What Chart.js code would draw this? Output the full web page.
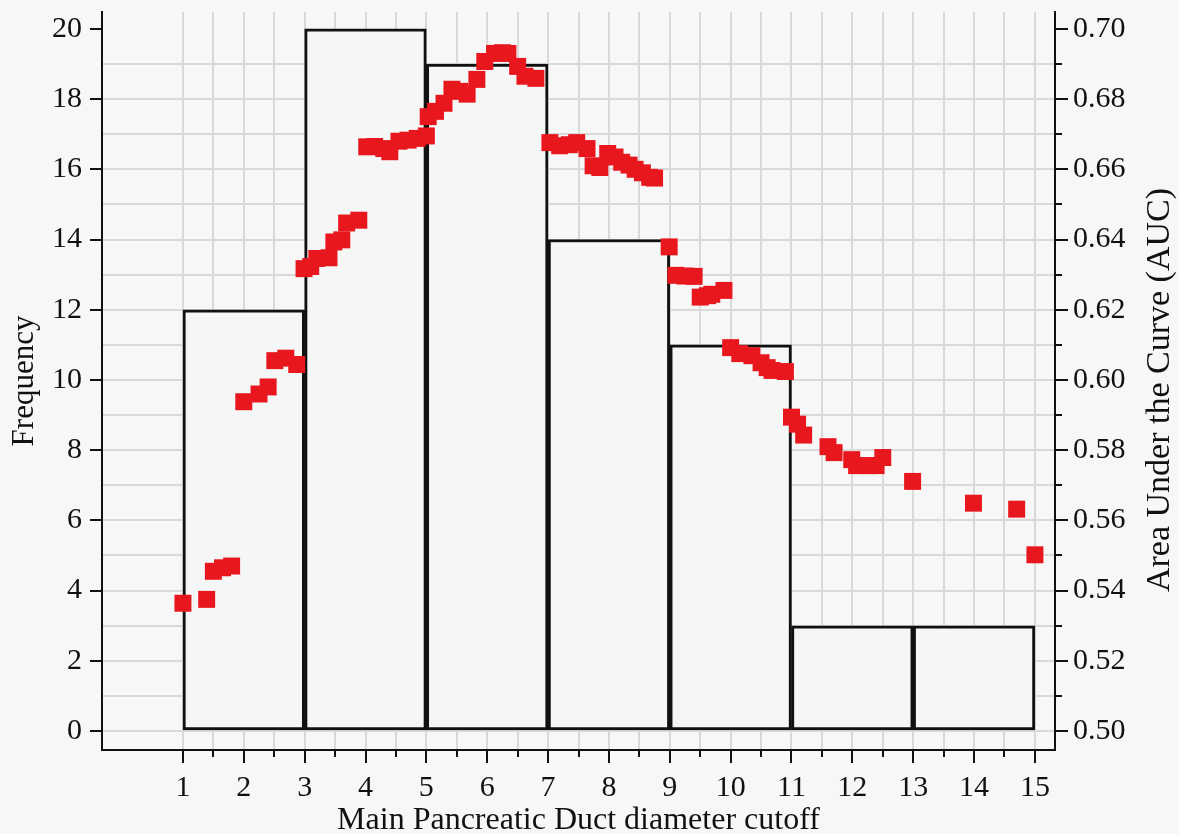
<!DOCTYPE html>
<html>
<head>
<meta charset="utf-8">
<script src="https://cdn.jsdelivr.net/npm/chart.js@4.4.1/dist/chart.umd.min.js"></script>
<style>
html,body{margin:0;padding:0;background:#f7f7f7;}
#wrap{width:1179px;height:834px;position:relative;}
</style>
</head>
<body>
<div id="wrap"><canvas id="c"></canvas></div>
<script>
// ---- data ----
const binCenters = [2, 4, 6, 8, 10, 12, 14];
const frequencies = [12, 20, 19, 14, 11, 3, 3];

const cutoffs = [
  1.00, 1.39, 1.50, 1.65, 1.80,
  2.00, 2.25, 2.40, 2.51, 2.69, 2.87,
  2.99, 3.10, 3.20, 3.40, 3.48, 3.61, 3.69, 3.89,
  4.02, 4.15, 4.30, 4.40, 4.55, 4.70, 4.85, 5.00,
  5.03, 5.15, 5.29, 5.42, 5.55, 5.67, 5.83, 5.96, 6.12, 6.25, 6.34, 6.50, 6.62, 6.80,
  7.03, 7.19, 7.35, 7.47, 7.64, 7.74, 7.85, 7.98, 8.10, 8.21, 8.33, 8.43, 8.55, 8.67, 8.75,
  8.99, 9.10, 9.25, 9.40, 9.50, 9.62, 9.69, 9.89,
  10.00, 10.15, 10.35, 10.50, 10.60, 10.68, 10.90,
  11.00, 11.10, 11.20, 11.60, 11.70, 11.99, 12.07, 12.25, 12.39, 12.50,
  12.99, 13.99, 14.70, 15.00
];
const aucValues = [
  0.5364, 0.5375, 0.5455, 0.5465, 0.5470,
  0.5938, 0.5960, 0.5980, 0.6055, 0.6062, 0.6044,
  0.6317, 0.6323, 0.6346, 0.6348, 0.6393, 0.6399, 0.6447, 0.6455,
  0.6664, 0.6665, 0.6659, 0.6650, 0.6680, 0.6683, 0.6688, 0.6695,
  0.6750, 0.6765, 0.6788, 0.6828, 0.6822, 0.6814, 0.6856, 0.6907, 0.6930, 0.6932, 0.6930, 0.6893, 0.6865, 0.6859,
  0.6676, 0.6667, 0.6670, 0.6676, 0.6659, 0.6610, 0.6605, 0.6645, 0.6635, 0.6620, 0.6612, 0.6600, 0.6590, 0.6577, 0.6575,
  0.6379, 0.6298, 0.6296, 0.6295, 0.6236, 0.6240, 0.6244, 0.6255,
  0.6092, 0.6075, 0.6069, 0.6049, 0.6035, 0.6027, 0.6024,
  0.5894, 0.5874, 0.5843, 0.5810, 0.5793, 0.5773, 0.5756, 0.5756, 0.5756, 0.5779,
  0.5711, 0.5649, 0.5632, 0.5502
];

const xTicks = [1,1.5,2,2.5,3,3.5,4,4.5,5,5.5,6,6.5,7,7.5,8,8.5,9,9.5,10,10.5,11,11.5,12,12.5,13,13.5,14,14.5,15];
const freqTicks = [0,1,2,3,4,5,6,7,8,9,10,11,12,13,14,15,16,17,18,19,20];
const aucTicks = [0.50,0.51,0.52,0.53,0.54,0.55,0.56,0.57,0.58,0.59,0.60,0.61,0.62,0.63,0.64,0.65,0.66,0.67,0.68,0.69,0.70];

const xTitle = 'Main Pancreatic Duct diameter cutoff';
const yTitle = 'Frequency';
const y2Title = 'Area Under the Curve (AUC)';

const FONT = '"Liberation Serif", "Times New Roman", serif';
const INK = '#111111';
const GRID = '#d9d9d9';
const X_MIN = -0.33, X_MAX = 15.33;

const barData = binCenters.map((c, i) => ({x: c, y: frequencies[i]}));
const aucData = cutoffs.map((c, i) => ({x: c, y: aucValues[i]}));

const axisMarks = {
  id: 'axisMarks',
  afterDraw(chart) {
    const {ctx, chartArea: ca} = chart;
    const {x, y, y2} = chart.scales;
    ctx.save();
    ctx.strokeStyle = INK;
    ctx.lineWidth = 2;
    ctx.beginPath();
    xTicks.forEach(v => {
      const px = Math.round(x.getPixelForValue(v));
      const len = Number.isInteger(v) ? 13 : 7;
      ctx.moveTo(px, ca.bottom); ctx.lineTo(px, ca.bottom + len);
    });
    freqTicks.forEach(v => {
      if (v % 2 !== 0) return;
      const py = Math.round(y.getPixelForValue(v));
      ctx.moveTo(ca.left - 12, py); ctx.lineTo(ca.left, py);
    });
    aucTicks.forEach((v, i) => {
      const py = Math.round(y2.getPixelForValue(v));
      const len = i % 2 === 0 ? 13 : 7;
      ctx.moveTo(ca.right, py); ctx.lineTo(ca.right + len, py);
    });
    ctx.stroke();
    ctx.font = '34px ' + FONT;
    ctx.fillStyle = INK;
    ctx.textAlign = 'center';
    ctx.textBaseline = 'middle';
    ctx.translate(1160, 390);
    ctx.rotate(-Math.PI / 2);
    ctx.fillText(y2Title, 0, 0);
    ctx.restore();
  }
};

new Chart(document.getElementById('c'), {
  type: 'bar',
  data: {
    datasets: [
      {
        type: 'scatter',
        data: aucData,
        yAxisID: 'y2',
        xAxisID: 'x',
        backgroundColor: '#e8171e',
        borderWidth: 0,
        pointStyle: 'rect',
        pointRadius: 12,
        pointHoverRadius: 12,
        order: 0
      },
      {
        type: 'bar',
        data: barData,
        yAxisID: 'y',
        xAxisID: 'xb',
        grouped: false,
        backgroundColor: '#f5f6f6',
        borderColor: INK,
        borderWidth: 3,
        borderSkipped: false,
        barPercentage: 1,
        categoryPercentage: 1,
        order: 1
      }
    ]
  },
  options: {
    responsive: true,
    maintainAspectRatio: false,
    animation: false,
    events: [],
    layout: {padding: {top: 5, left: 0, right: 0, bottom: 0}},
    plugins: {legend: {display: false}, tooltip: {enabled: false}},
    scales: {
      x: {
        type: 'linear',
        position: 'bottom',
        offset: false,
        min: X_MIN,
        max: X_MAX,
        afterBuildTicks: s => { s.ticks = xTicks.map(v => ({value: v})); },
        afterFit: s => { s.height = 84; s.paddingLeft = 0; s.paddingRight = 0; },
        grid: {color: GRID, lineWidth: 2, drawTicks: false, offset: false},
        border: {display: true, color: INK, width: 2},
        ticks: {
          autoSkip: false, maxRotation: 0, padding: 20, color: INK,
          font: {family: FONT, size: 30},
          callback: v => Number.isInteger(v) ? String(v) : ''
        },
        title: {display: true, text: xTitle, color: INK, font: {family: FONT, size: 32, lineHeight: 0.8}, padding: {top: 0, bottom: 1}}
      },
      xb: {
        type: 'linear',
        position: 'bottom',
        display: false,
        offset: false,
        min: X_MIN,
        max: X_MAX,
        afterBuildTicks: s => { s.ticks = [{value: X_MIN}, {value: X_MAX}]; },
        afterFit: s => { s.height = 0; s.paddingLeft = 0; s.paddingRight = 0; }
      },
      y: {
        type: 'linear',
        position: 'left',
        min: -0.54,
        max: 20.48,
        afterBuildTicks: s => { s.ticks = freqTicks.map(v => ({value: v})); },
        afterFit: s => { s.width = 102; s.paddingTop = 0; s.paddingBottom = 0; },
        grid: {color: c => (c.tick && c.tick.value === 20) ? 'rgba(0,0,0,0)' : GRID, lineWidth: 2, drawTicks: false},
        border: {display: true, color: INK, width: 2},
        ticks: {
          autoSkip: false, padding: 20, color: INK,
          font: {family: FONT, size: 30},
          callback: v => (v % 2 === 0) ? String(v) : ''
        },
        title: {display: true, text: yTitle, color: INK, font: {family: FONT, size: 31, lineHeight: 1}, padding: {top: 9, bottom: 0}}
      },
      y2: {
        type: 'linear',
        position: 'right',
        min: 0.4946,
        max: 0.7048,
        afterBuildTicks: s => { s.ticks = aucTicks.filter((v, i) => i % 2 === 0).map(v => ({value: v})); },
        afterFit: s => { s.width = 124; s.paddingTop = 0; s.paddingBottom = 0; },
        grid: {drawOnChartArea: false, drawTicks: false},
        border: {display: true, color: INK, width: 2},
        ticks: {
          autoSkip: false, padding: 18, color: INK,
          font: {family: FONT, size: 30},
          callback: v => v.toFixed(2)
        }
      }
    }
  },
  plugins: [axisMarks]
});
</script>
</body>
</html>
